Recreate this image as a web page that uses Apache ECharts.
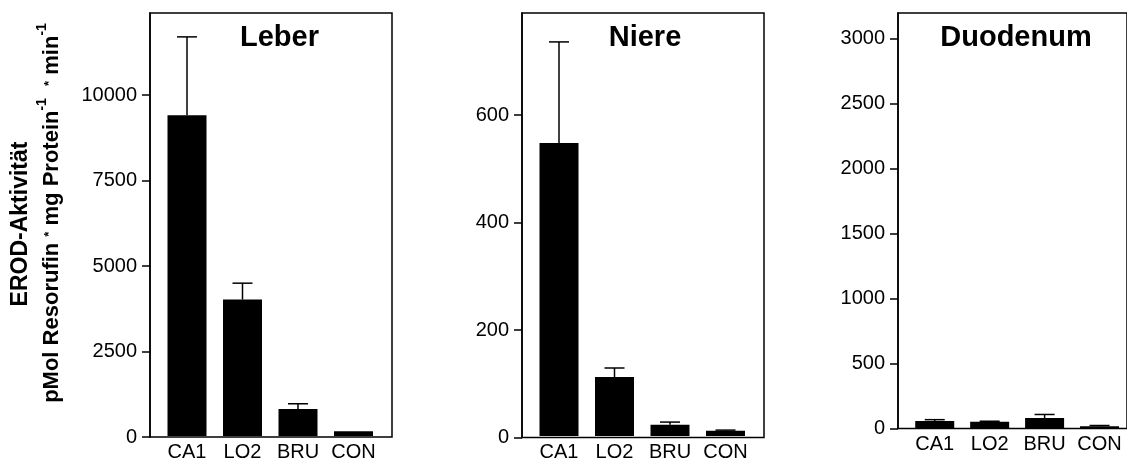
<!DOCTYPE html>
<html>
<head>
<meta charset="utf-8">
<script src="https://cdn.jsdelivr.net/npm/echarts@6/dist/echarts.min.js"></script>
<style>
html,body{margin:0;padding:0;background:#fff;}
#chart{width:1127px;height:462px;}
</style>
</head>
<body>
<div id="chart"></div>
<script>
// ---- data ----
const categories = ['CA1', 'LO2', 'BRU', 'CON'];
const panelTitles = ['Leber', 'Niere', 'Duodenum'];
const leberMean = [9400, 4000, 790, 140];
const leberErr = [2300, 480, 155, 0];
const niereMean = [547, 110, 21, 10];
const niereErr = [189, 17, 5, 1];
const duoMean = [58, 52, 80, 17];
const duoErr = [10, 4, 28, 6];
const leberTicks = [0, 2500, 5000, 7500, 10000];
const niereTicks = [0, 200, 400, 600];
const duoTicks = [0, 500, 1000, 1500, 2000, 2500, 3000];
const axisMax = [12400, 790, 3200];

const means = [leberMean, niereMean, duoMean];
const errs = [leberErr, niereErr, duoErr];
const ticks = [leberTicks, niereTicks, duoTicks];

// ---- layout ----
const axisX = [150, 522, 898];
const zeroY = [437, 437.5, 428.5];
const topY = 13;
const frameW = 242;
const FONT = "'Liberation Sans', Arial, Helvetica, sans-serif";

const grid = [], xAxis = [], yAxis = [], series = [];
for (let i = 0; i < 3; i++) {
  const h = zeroY[i] - topY;
  const gf = i * 2, gi = i * 2 + 1;
  grid.push({left: axisX[i], top: topY, width: frameW, height: h, show: true,
    borderColor: '#000', borderWidth: 1.5, backgroundColor: 'transparent'});
  grid.push({left: axisX[i] + 9.25, top: topY, width: 222, height: h});
  xAxis.push({type: 'value', gridIndex: gf, show: false, min: 0, max: 1});
  yAxis.push({type: 'value', gridIndex: gf, min: 0, max: axisMax[i],
    axisLine: {show: true, lineStyle: {color: '#000', width: 1.5}},
    axisTick: {show: true, length: 8, inside: false, lineStyle: {color: '#000', width: 1.5}, customValues: ticks[i]},
    axisLabel: {show: true, margin: 13, color: '#000', fontSize: 20, fontFamily: FONT, customValues: ticks[i],
      formatter: function (v) { return String(v); }},
    splitLine: {show: false}});
  xAxis.push({type: 'category', gridIndex: gi, data: categories,
    axisLine: {show: false}, axisTick: {show: false},
    axisLabel: {show: true, margin: 6, color: '#000', fontSize: 20, fontFamily: FONT, interval: 0}});
  yAxis.push({type: 'value', gridIndex: gi, min: 0, max: axisMax[i], show: false, splitLine: {show: false}});
  series.push({type: 'bar', xAxisIndex: gi, yAxisIndex: gi, data: means[i], barWidth: 39,
    itemStyle: {color: '#000'}, silent: true});
  series.push({type: 'custom', xAxisIndex: gi, yAxisIndex: gi,
    data: categories.map((c, j) => [j, means[i][j], errs[i][j]]),
    encode: {x: 0, y: 1}, silent: true,
    renderItem: function (params, api) {
      const x = api.value(0), m = api.value(1), e = api.value(2);
      if (!e) return null;
      const p0 = api.coord([x, m]);
      const p1 = api.coord([x, m + e]);
      const half = 10;
      const st = {stroke: '#000', lineWidth: 1.5};
      return {type: 'group', children: [
        {type: 'line', shape: {x1: p0[0], y1: p0[1], x2: p1[0], y2: p1[1]}, style: st},
        {type: 'line', shape: {x1: p1[0] - half, y1: p1[1], x2: p1[0] + half, y2: p1[1]}, style: st}
      ]};
    }});
}

const titleX = [279.5, 645, 1016];
const graphic = panelTitles.map((t, i) => ({
  type: 'text', x: titleX[i], y: 38, silent: true,
  style: {text: t, font: 'bold 29px ' + FONT, fill: '#000', textAlign: 'center', textVerticalAlign: 'middle'}
}));
graphic.push({
  type: 'text', x: 21, y: 224, rotation: Math.PI / 2, silent: true,
  style: {text: 'EROD-Aktivität', font: 'bold 23px ' + FONT, fill: '#000', textAlign: 'center', textVerticalAlign: 'middle'}
});
graphic.push({
  type: 'text', x: 49, y: 213, rotation: Math.PI / 2, silent: true,
  style: {
    text: '{b|pMol Resorufin }{s|*}{b| mg Protein}{sup|-1}{b|  }{s|*}{b| min}{sup|-1}',
    textAlign: 'center', textVerticalAlign: 'middle', fill: '#000',
    rich: {
      b: {fontSize: 22, fontWeight: 'bold', fontFamily: FONT, fill: '#000', verticalAlign: 'bottom', lineHeight: 27},
      s: {fontSize: 13, fontWeight: 'bold', fontFamily: FONT, fill: '#000', verticalAlign: 'middle', lineHeight: 27},
      sup: {fontSize: 14, fontWeight: 'bold', fontFamily: FONT, fill: '#000', verticalAlign: 'top', lineHeight: 27}
    }
  }
});

const chart = echarts.init(document.getElementById('chart'), null, {renderer: 'canvas'});
chart.setOption({
  animation: false,
  backgroundColor: '#fff',
  grid, xAxis, yAxis, series, graphic
});
</script>
</body>
</html>
